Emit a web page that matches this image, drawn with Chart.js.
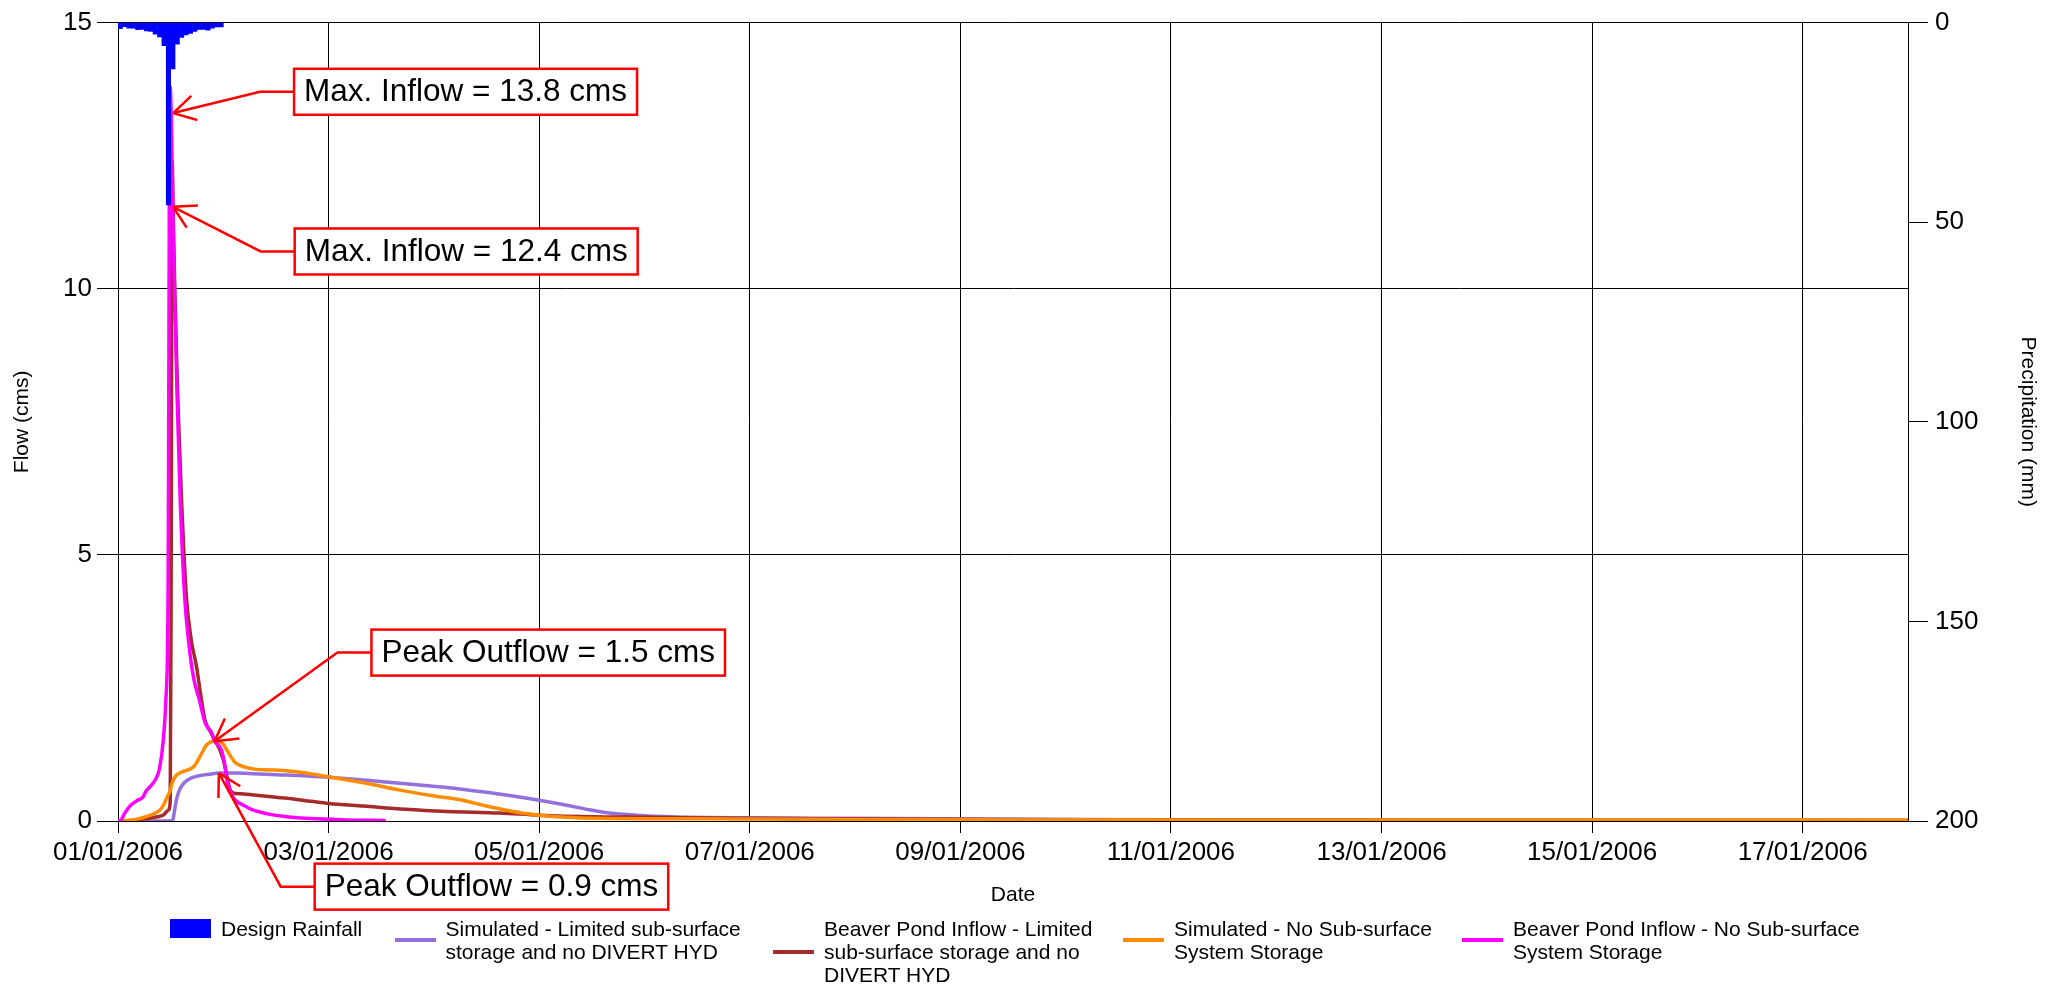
<!DOCTYPE html>
<html>
<head>
<meta charset="utf-8">
<title>Beaver Pond Inflow</title>
<script src="https://cdn.jsdelivr.net/npm/chart.js@4.4.1/dist/chart.umd.min.js"></script>
<style>
html, body { margin: 0; padding: 0; background: #fff; }
#wrap { position: relative; width: 2053px; height: 990px; font-family: "Liberation Sans", Arial, sans-serif; }
#wrap canvas { position: absolute; left: 0; top: 0; }
.legend-item { position: absolute; top: 916.6px; display: flex; align-items: center; font-size: 21px; line-height: 23.4px; color: #000; white-space: nowrap; }
.swatch { width: 41px; margin-right: 10px; flex: none; }
</style>
</head>
<body>
<div id="wrap">
  <canvas id="flowChart" width="2053" height="990"></canvas>
  <div id="legend"></div>
</div>
<script>
// x axis runs in days from 01/01/2006 00:00, series times are in hours
const dateTicks = ['01/01/2006', '03/01/2006', '05/01/2006', '07/01/2006', '09/01/2006',
  '11/01/2006', '13/01/2006', '15/01/2006', '17/01/2006'];

// design storm, hourly depth (mm) on 01/01
const rainDepth = [1.5, 1.0, 1.4, 1.4, 1.8, 1.7, 2.1, 2.2, 2.9, 3.6, 5.8, 45.7,
  11.6, 5.4, 3.7, 3.1, 2.7, 2.2, 1.7, 1.7, 1.9, 1.4, 1.1, 1.1];

// Simulated - Limited sub-surface storage and no DIVERT HYD
const limitedSimHours = [0, 12.4, 12.7, 13.3, 14, 15, 16.5, 18.5, 21, 23, 27, 30.7, 36, 42, 48, 56,
  65.5, 75, 83, 90, 96, 102, 107.4, 112, 118, 126, 144, 165, 188, 215, 260, 330, 408];
const limitedSimFlow = [0, 0, 0.1, 0.39, 0.58, 0.71, 0.8, 0.85, 0.88, 0.9, 0.9, 0.89, 0.87, 0.85, 0.82, 0.77,
  0.7, 0.63, 0.55, 0.47, 0.39, 0.3, 0.21, 0.15, 0.11, 0.08, 0.06, 0.05, 0.04, 0.03, 0.02, 0.015, 0.01];

// Beaver Pond Inflow - Limited sub-surface storage and no DIVERT HYD
const limitedPondHours = [0, 3, 6, 9, 10.5, 11.4, 11.9, 12.1, 12.35, 12.6, 13, 13.6, 14.4, 15.6, 16.7, 17.9,
  18.8, 19.8, 20.5, 21.2, 22, 23, 24, 24.8, 25.5, 26.2, 28, 32, 38, 44, 48, 56, 65.5, 75, 87, 96, 108,
  120, 140, 165, 200, 260, 330, 408];
const limitedPondFlow = [0, 0.01, 0.04, 0.08, 0.12, 0.2, 0.35, 4, 12.4, 11.3, 9.8, 8, 6.2, 4.2, 3.4, 2.9,
  2.4, 1.9, 1.76, 1.66, 1.52, 1.38, 1.15, 0.85, 0.6, 0.53, 0.51, 0.48, 0.43, 0.37, 0.33, 0.28, 0.22, 0.18, 0.15, 0.11, 0.08,
  0.07, 0.05, 0.04, 0.03, 0.02, 0.015, 0.01];

// Simulated - No Sub-surface System Storage
const noStorageSimHours = [0, 2, 4, 6, 8, 9.5, 10.5, 11.2, 11.8, 12.5, 13.3, 14.5, 15.6, 16.5, 17.1, 17.8,
  18.6, 19.4, 20.1, 21, 22, 22.9, 23.9, 24.9, 25.8, 26.7, 27.7, 29.5, 31.5, 34.5, 37.6, 42, 48, 56,
  64.3, 72, 78, 83, 88, 92, 96, 102, 109, 130, 170, 250, 408];
const noStorageSimFlow = [0, 0.01, 0.03, 0.07, 0.13, 0.2, 0.32, 0.45, 0.55, 0.75, 0.86, 0.92, 0.95, 0.98, 1.01, 1.08,
  1.2, 1.32, 1.42, 1.48, 1.5, 1.49, 1.45, 1.32, 1.2, 1.1, 1.05, 1.0, 0.97, 0.96, 0.95, 0.91, 0.83, 0.72,
  0.58, 0.47, 0.4, 0.3, 0.21, 0.15, 0.11, 0.07, 0.05, 0.04, 0.03, 0.02, 0.02];

// Beaver Pond Inflow - No Sub-surface System Storage
const noStoragePondHours = [0, 0.4, 1.5, 2.5, 3.4, 4.5, 5.7, 6.3, 7.6, 8.8, 9.5, 10.3, 10.9, 11.4, 11.85, 12.15,
  12.6, 13, 13.5, 14.2, 15.2, 16.2, 17.2, 18.6, 19.8, 20.5, 21.2, 22, 23.6, 24.3, 25, 26.2, 27.2,
  28.5, 30.4, 32.3, 35, 37.6, 41, 45.2, 52, 61];
const noStoragePondFlow = [0, 0, 0.14, 0.26, 0.33, 0.39, 0.45, 0.55, 0.67, 0.82, 1.0, 1.5, 2.26, 4.1, 13.8, 13.2,
  11.0, 9.6, 7.9, 6.0, 4.2, 3.3, 2.7, 2.26, 1.86, 1.75, 1.68, 1.51, 1.33, 1.08, 0.71, 0.45, 0.36,
  0.3, 0.22, 0.17, 0.12, 0.09, 0.06, 0.04, 0.02, 0.01];

const seriesNames = [
  ['Design Rainfall'],
  ['Simulated - Limited sub-surface', 'storage and no DIVERT HYD'],
  ['Beaver Pond Inflow - Limited', 'sub-surface storage and no', 'DIVERT HYD'],
  ['Simulated - No Sub-surface', 'System Storage'],
  ['Beaver Pond Inflow - No Sub-surface', 'System Storage']
];
const seriesColors = ['#0000ff', '#9370db', '#a52a2a', '#ff8c00', '#ff00ff'];

// callout boxes: arrow tip and box left/middle, both in (day, flow) units
const callouts = [
  { text: 'Max. Inflow = 13.8 cms', tip: [0.524, 13.3], box: [1.672, 13.70] },
  { text: 'Max. Inflow = 12.4 cms', tip: [0.522, 11.54], box: [1.678, 10.70] },
  { text: 'Peak Outflow = 1.5 cms', tip: [22 / 24, 1.5], box: [2.407, 3.164] },
  { text: 'Peak Outflow = 0.9 cms', tip: [23 / 24, 0.9], box: [1.868, -1.233] }
];

const FONT = '"Liberation Sans", Arial, sans-serif';
Chart.defaults.font.family = FONT;
Chart.defaults.color = '#000';

function toPoints(hours, values) {
  return hours.map((h, i) => ({ x: h / 24, y: values[i] }));
}

function lineSet(i, hours, values, order) {
  return {
    type: 'line',
    label: seriesNames[i].join(' '),
    data: toPoints(hours, values),
    yAxisID: 'y',
    borderColor: seriesColors[i],
    backgroundColor: seriesColors[i],
    borderWidth: 3.5,
    pointRadius: 0,
    cubicInterpolationMode: 'monotone',
    order: order
  };
}

const calloutPlugin = {
  id: 'callouts',
  afterDraw(chart) {
    const { ctx } = chart;
    const x = chart.scales.x, y = chart.scales.y;
    ctx.save();
    ctx.font = '31.5px ' + FONT;
    callouts.forEach(c => {
      const tx = x.getPixelForValue(c.tip[0]);
      const ty = y.getPixelForValue(c.tip[1]);
      const bx = x.getPixelForValue(c.box[0]);
      const by = y.getPixelForValue(c.box[1]);
      const w = ctx.measureText(c.text).width + 20;
      const h = 46;
      const ex = bx - 34;

      ctx.strokeStyle = '#ff0000';
      ctx.lineWidth = 2.5;
      ctx.beginPath();
      ctx.moveTo(bx, by);
      ctx.lineTo(ex, by);
      ctx.lineTo(tx, ty);
      ctx.stroke();

      // open arrow head
      const ang = Math.atan2(by - ty, ex - tx);
      [-1, 1].forEach(s => {
        ctx.beginPath();
        ctx.moveTo(tx, ty);
        ctx.lineTo(tx + 25 * Math.cos(ang + s * 0.52), ty + 25 * Math.sin(ang + s * 0.52));
        ctx.stroke();
      });

      ctx.fillStyle = '#fff';
      ctx.fillRect(bx, by - h / 2, w, h);
      ctx.strokeRect(bx, by - h / 2, w, h);
      ctx.fillStyle = '#000';
      ctx.textBaseline = 'middle';
      ctx.fillText(c.text, bx + 10, by + 1);
    });
    ctx.restore();
  }
};

const ctx = document.getElementById('flowChart').getContext('2d');
const flowChart = new Chart(ctx, {
  type: 'line',
  data: {
    datasets: [
      {
        type: 'bar',
        label: seriesNames[0][0],
        data: rainDepth.map((d, i) => ({ x: (i + 0.5) / 24, y: d })),
        yAxisID: 'y2',
        backgroundColor: seriesColors[0],
        borderWidth: 0,
        barPercentage: 1,
        categoryPercentage: 1,
        order: 0
      },
      lineSet(1, limitedSimHours, limitedSimFlow, 4),
      lineSet(2, limitedPondHours, limitedPondFlow, 3),
      lineSet(3, noStorageSimHours, noStorageSimFlow, 2),
      lineSet(4, noStoragePondHours, noStoragePondFlow, 1)
    ]
  },
  options: {
    responsive: false,
    animation: false,
    layout: { padding: { top: 18, left: 0, right: 0, bottom: 0 } },
    plugins: {
      legend: { display: false },
      tooltip: { enabled: false }
    },
    scales: {
      x: {
        type: 'linear',
        min: 0,
        max: 17,
        offset: false,
        ticks: {
          stepSize: 2,
          includeBounds: false,
          autoSkip: false,
          maxRotation: 0,
          padding: 4,
          font: { size: 26 },
          callback: v => dateTicks[v / 2] || ''
        },
        grid: { offset: false, color: '#000', lineWidth: 1, tickLength: 12 },
        border: { color: '#000', width: 1 },
        title: { display: true, text: 'Date', font: { size: 21 }, padding: { top: 0, bottom: 82 } },
        afterFit: s => { s.height = 169; }
      },
      y: {
        position: 'left',
        min: 0,
        max: 15,
        ticks: { stepSize: 5, padding: 5, font: { size: 26 } },
        grid: { color: '#000', lineWidth: 1, tickLength: 21 },
        border: { color: '#000', width: 1 },
        title: { display: true, text: 'Flow (cms)', font: { size: 21 }, padding: { top: 10, bottom: 0 } },
        afterFit: s => { s.width = 118; }
      },
      y2: {
        position: 'right',
        min: 0,
        max: 200,
        reverse: true,
        ticks: { stepSize: 50, padding: 7, font: { size: 26 } },
        grid: { drawOnChartArea: false, color: '#000', lineWidth: 1, tickLength: 20 },
        border: { color: '#000', width: 1 },
        title: { display: true, text: 'Precipitation (mm)', font: { size: 21 }, padding: { top: 13, bottom: 0 } },
        afterFit: s => { s.width = 145; }
      }
    }
  },
  plugins: [calloutPlugin]
});

// legend row under the chart
const legendLeft = [170, 394.5, 773, 1123, 1462];
const legendEl = document.getElementById('legend');
seriesNames.forEach((lines, i) => {
  const item = document.createElement('div');
  item.className = 'legend-item';
  item.style.left = legendLeft[i] + 'px';
  const sw = document.createElement('div');
  sw.className = 'swatch';
  sw.style.background = seriesColors[i];
  sw.style.height = i === 0 ? '19px' : '4px';
  const txt = document.createElement('div');
  txt.innerHTML = lines.join('<br>');
  item.appendChild(sw);
  item.appendChild(txt);
  legendEl.appendChild(item);
});
</script>
</body>
</html>
